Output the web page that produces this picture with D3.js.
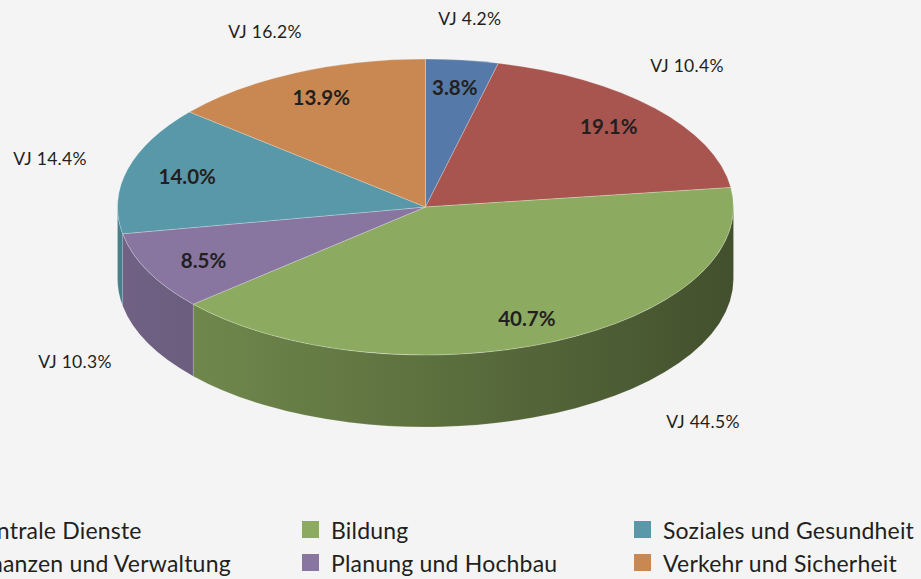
<!DOCTYPE html>
<html>
<head>
<meta charset="utf-8">
<script src="https://cdn.jsdelivr.net/npm/d3@7"></script>
<style>
  html, body { margin: 0; padding: 0; background: #f4f4f4; }
  svg { display: block; }
  text { font-family: Lato, "Noto Sans", sans-serif; fill: #231f20; }
</style>
</head>
<body>
<svg id="chart" width="921" height="579"></svg>
<script>
// ---- data ----
const categories = ["Zentrale Dienste", "Finanzen und Verwaltung", "Bildung",
                    "Planung und Hochbau", "Soziales und Gesundheit", "Verkehr und Sicherheit"];
const shares = [3.8, 19.1, 40.7, 8.5, 14.0, 13.9];          // current year, %
const priorYear = [4.2, 10.4, 44.5, 10.3, 14.4, 16.2];      // "VJ" (Vorjahr), %

// ---- styles / layout ----
const colors = ["#5579a8", "#a9554f", "#8dab60", "#8876a0", "#5898a8", "#c98852"];
const W = 921, H = 579;
const cx = 425.5, cy = 207, rx = 308, ry = 148, depth = 72;
// positions of the VJ annotations, as fractions of the pie radii from centre
const vjLayout = [[0.144, -1.277], [0.849, -0.959], [0.901, 1.446],
                  [-1.138, 1.047], [-1.219, -0.331], [-0.521, -1.189]];

const svg = d3.select("#chart");
svg.append("rect").attr("width", W).attr("height", H).attr("fill", "#f4f4f4");

const pie = d3.pie().sort(null).value(d => d);
const arcs = pie(shares);

const P = (a, dy = 0) => [cx + rx * Math.sin(a), cy - ry * Math.cos(a) + dy];
const fmt = p => p[0].toFixed(2) + "," + p[1].toFixed(2);

// gradients for the side walls (lighter on the left, darker on the right)
const defs = svg.append("defs");
colors.forEach((c, i) => {
  const g = defs.append("linearGradient").attr("id", "side" + i)
    .attr("gradientUnits", "userSpaceOnUse")
    .attr("x1", cx - rx).attr("x2", cx + rx).attr("y1", 0).attr("y2", 0);
  const base = d3.rgb(c);
  const shade = k => d3.rgb(base.r * k, base.g * k, base.b * k).formatHex();
  g.append("stop").attr("offset", "0%").attr("stop-color", shade(0.83));
  g.append("stop").attr("offset", "50%").attr("stop-color", shade(0.66));
  g.append("stop").attr("offset", "100%").attr("stop-color", shade(0.47));
});

// side walls (front half only: angles between PI/2 and 3PI/2)
const wallG = svg.append("g");
arcs.forEach((d, i) => {
  const a0 = Math.max(d.startAngle, Math.PI / 2);
  const a1 = Math.min(d.endAngle, 3 * Math.PI / 2);
  if (a1 <= a0) return;
  const p0 = P(a0), p1 = P(a1), q0 = P(a0, depth), q1 = P(a1, depth);
  const path = `M${fmt(p0)} A${rx},${ry} 0 0 1 ${fmt(p1)} L${fmt(q1)} A${rx},${ry} 0 0 0 ${fmt(q0)} Z`;
  wallG.append("path").attr("d", path).attr("fill", `url(#side${i})`)
    .attr("stroke", "rgba(255,255,255,0.25)").attr("stroke-width", 0.6);
});

// top faces
const topG = svg.append("g");
arcs.forEach((d, i) => {
  const p0 = P(d.startAngle), p1 = P(d.endAngle);
  const large = (d.endAngle - d.startAngle) > Math.PI ? 1 : 0;
  const path = `M${cx},${cy} L${fmt(p0)} A${rx},${ry} 0 ${large} 1 ${fmt(p1)} Z`;
  topG.append("path").attr("d", path).attr("fill", colors[i])
    .attr("stroke", "rgba(255,255,255,0.35)").attr("stroke-width", 0.7);
});

// percentage labels on top faces
const kx = 0.8, ky = 0.82;
arcs.forEach((d, i) => {
  const m = (d.startAngle + d.endAngle) / 2;
  svg.append("text")
    .attr("x", cx + kx * rx * Math.sin(m))
    .attr("y", cy - ky * ry * Math.cos(m))
    .attr("text-anchor", "middle").attr("dominant-baseline", "central")
    .attr("font-size", 20.5).attr("font-weight", 700)
    .text(d3.format(".1f")(shares[i]) + "%");
});

// VJ annotations
priorYear.forEach((v, i) => {
  svg.append("text")
    .attr("x", cx + vjLayout[i][0] * rx)
    .attr("y", cy + vjLayout[i][1] * ry)
    .attr("text-anchor", "middle").attr("dominant-baseline", "central")
    .attr("font-size", 17.5).attr("letter-spacing", 0.3)
    .text("VJ " + d3.format(".1f")(v) + "%");
});

// legend (column-major, 3 columns x 2 rows)
const legX = [-58, 302, 634], legY = [529.5, 562.5], sw = 17;
categories.forEach((c, i) => {
  const col = Math.floor(i / 2), row = i % 2;
  const g = svg.append("g");
  g.append("rect").attr("x", legX[col]).attr("y", legY[row] - sw / 2)
    .attr("width", sw).attr("height", sw).attr("fill", colors[i]);
  g.append("text").attr("x", legX[col] + 29).attr("y", legY[row])
    .attr("dominant-baseline", "central").attr("font-size", 23)
    .attr("letter-spacing", 0.2).text(c);
});
</script>
</body>
</html>
